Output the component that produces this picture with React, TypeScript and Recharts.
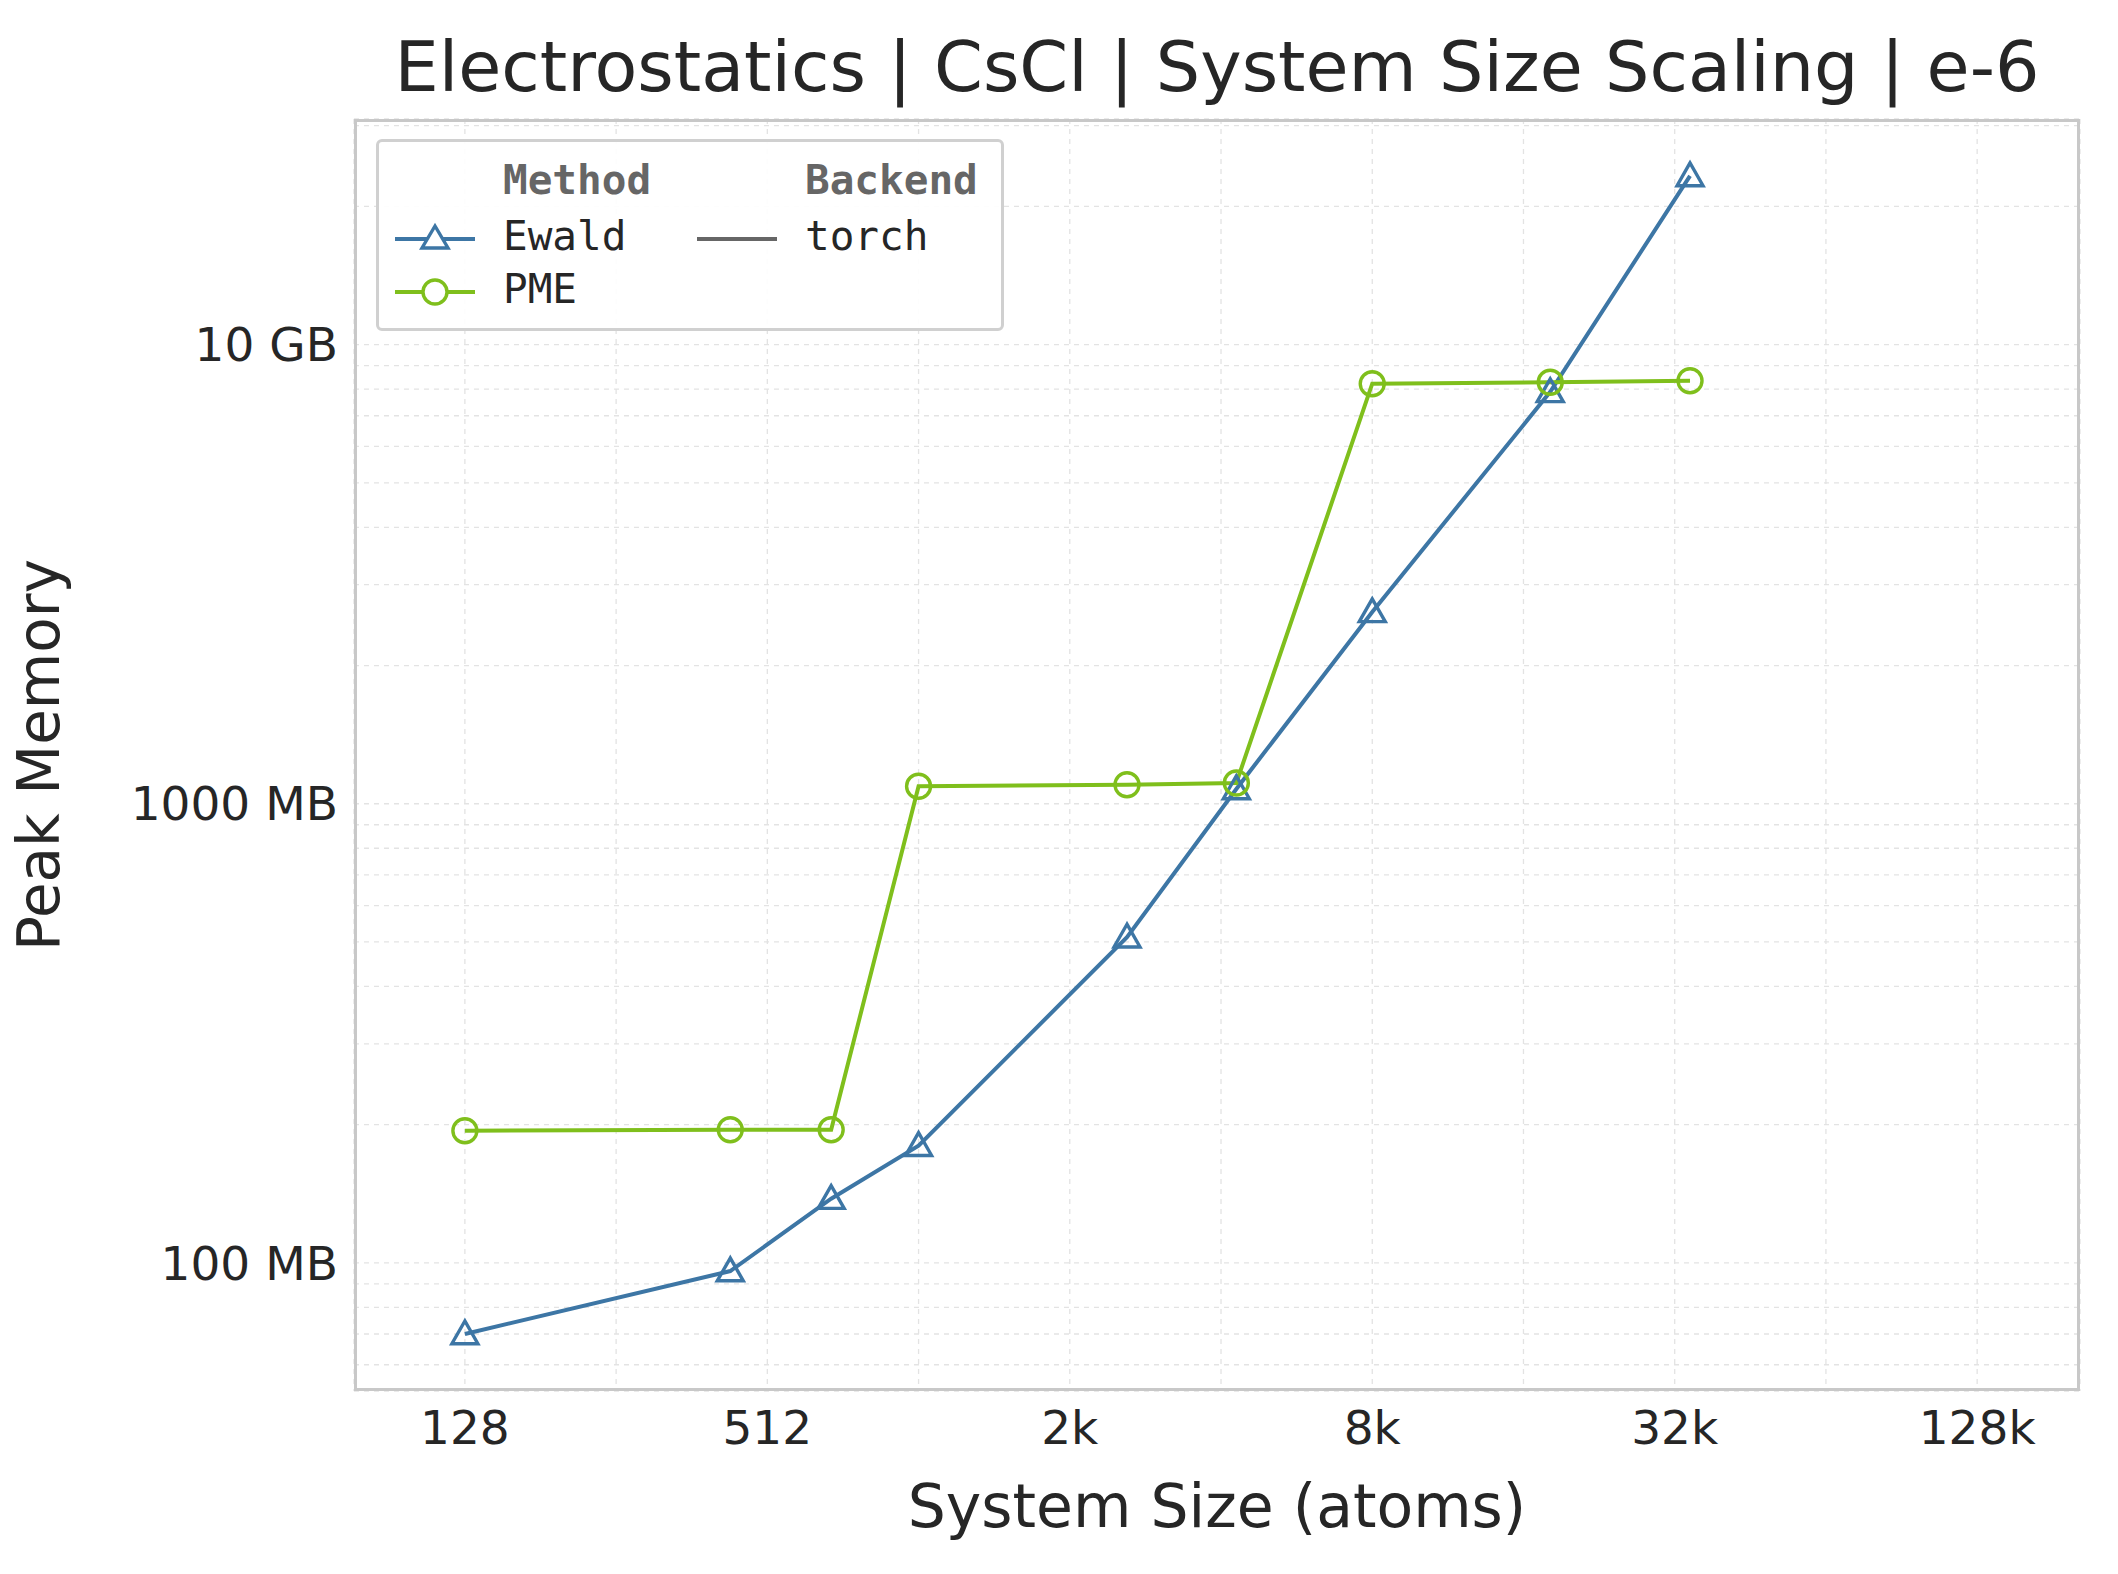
import { LineChart, Line, XAxis, YAxis, CartesianGrid, Label } from "recharts"

const sizes = [128, 432, 686, 1024, 2662, 4394, 8192, 18522, 35152]
const ewaldMB = [70, 96, 138, 180, 512, 1077, 2617, 7890, 23300]
const pmeSizes = [128, 432, 686, 1024, 2662, 4394, 8192, 18522, 35152]
const pmeMB = [194, 195, 195, 1092, 1100, 1110, 8220, 8280, 8340]

const xTicks = [128, 256, 512, 1024, 2048, 4096, 8192, 16384, 32768, 65536, 131072]
const xLabels: Record<number, string> = { 128: "128", 512: "512", 2048: "2k", 8192: "8k", 32768: "32k", 131072: "128k" }
const yTicks = [60, 70, 80, 90, 100, 200, 300, 400, 500, 600, 700, 800, 900, 1000, 2000, 3000, 4000, 5000, 6000, 7000, 8000, 9000, 10000, 20000, 30000]
const yLabels: Record<number, string> = { 100: "100 MB", 1000: "1000 MB", 10000: "10 GB" }

const EWALD = "#3d76a5"
const PME = "#7fbf1c"

const data = sizes.map((s, i) => ({ x: s, ewald: ewaldMB[i], pme: pmeMB[pmeSizes.indexOf(s)] }))

const Triangle = (props: any) => {
  const { cx, cy } = props
  if (cx == null || cy == null) return null
  const r = 13
  return (
    <polygon
      points={`${cx},${cy - r} ${cx - r},${cy + r * 0.75} ${cx + r},${cy + r * 0.75}`}
      fill="none"
      stroke={EWALD}
      strokeWidth={3.4}
    />
  )
}

const Circle = (props: any) => {
  const { cx, cy } = props
  if (cx == null || cy == null) return null
  return <circle cx={cx} cy={cy} r={12} fill="none" stroke={PME} strokeWidth={3.4} />
}

const mono = "'DejaVu Sans Mono', monospace"

export default function App() {
  return (
    <div style={{ position: "absolute", left: 0, top: 0, width: 2118, height: 1574, background: "#fff", fontFamily: "'DejaVu Sans', sans-serif" }}>
      <div style={{ position: "absolute", top: 26, left: 354, width: 1726, textAlign: "center", fontSize: 70, color: "#262626", whiteSpace: "nowrap" }}>
        Electrostatics | CsCl | System Size Scaling | e-6
      </div>
      <LineChart width={2118} height={1574} data={data} margin={{ top: 119, right: 38, bottom: 83, left: 0 }}>
        <CartesianGrid stroke="#e3e3e3" strokeDasharray="5 5" strokeWidth={1.3} />
        <XAxis
          dataKey="x"
          type="number"
          scale="log"
          domain={[77, 210000]}
          ticks={xTicks}
          tickFormatter={(v: number) => xLabels[v] ?? ""}
          tickLine={false}
          axisLine={false}
          height={100}
          tick={{ fontSize: 47, fill: "#262626" }}
          tickMargin={14}
          allowDataOverflow
        >
          <Label value="System Size (atoms)" position="insideBottom" offset={-36} style={{ fontSize: 60, fill: "#262626" }} />
        </XAxis>
        <YAxis
          type="number"
          scale="log"
          domain={[52.6, 31000]}
          ticks={yTicks}
          tickFormatter={(v: number) => yLabels[v] ?? ""}
          tickLine={false}
          axisLine={false}
          width={354}
          tick={{ fontSize: 47, fill: "#262626" }}
          tickMargin={10}
          allowDataOverflow
        >
          <Label value="Peak Memory" angle={-90} position="insideLeft" offset={38} style={{ fontSize: 58, fill: "#262626", textAnchor: "middle" }} />
        </YAxis>
        <Line dataKey="ewald" stroke={EWALD} strokeWidth={4} dot={<Triangle />} isAnimationActive={false} />
        <Line dataKey="pme" stroke={PME} strokeWidth={4} dot={<Circle />} isAnimationActive={false} />
      </LineChart>
      <div style={{ position: "absolute", left: 354, top: 119, width: 1726, height: 1272, border: "3px solid #c8c8c8", boxSizing: "border-box", pointerEvents: "none" }} />
      <div style={{ position: "absolute", left: 376, top: 139, width: 628, height: 192, border: "3.5px solid #d0d0d0", borderRadius: 6, background: "rgba(255,255,255,0.9)", boxSizing: "border-box", fontFamily: mono, fontSize: 41, color: "#262626" }}>
        <div style={{ position: "absolute", left: 124, top: 14, fontWeight: "bold", color: "#666" }}>Method</div>
        <div style={{ position: "absolute", left: 426, top: 14, fontWeight: "bold", color: "#666" }}>Backend</div>
        <svg style={{ position: "absolute", left: 16, top: 77 }} width={80} height={40}>
          <line x1={0} y1={20} x2={80} y2={20} stroke={EWALD} strokeWidth={4} />
          <polygon points="40,7 27,29 53,29" fill="#fff" stroke={EWALD} strokeWidth={3.4} />
        </svg>
        <div style={{ position: "absolute", left: 124, top: 70 }}>Ewald</div>
        <svg style={{ position: "absolute", left: 16, top: 130 }} width={80} height={40}>
          <line x1={0} y1={20} x2={80} y2={20} stroke={PME} strokeWidth={4} />
          <circle cx={40} cy={20} r={12} fill="#fff" stroke={PME} strokeWidth={3.4} />
        </svg>
        <div style={{ position: "absolute", left: 124, top: 123 }}>PME</div>
        <svg style={{ position: "absolute", left: 318, top: 77 }} width={80} height={40}>
          <line x1={0} y1={20} x2={80} y2={20} stroke="#666" strokeWidth={4} />
        </svg>
        <div style={{ position: "absolute", left: 426, top: 70 }}>torch</div>
      </div>
    </div>
  )
}
